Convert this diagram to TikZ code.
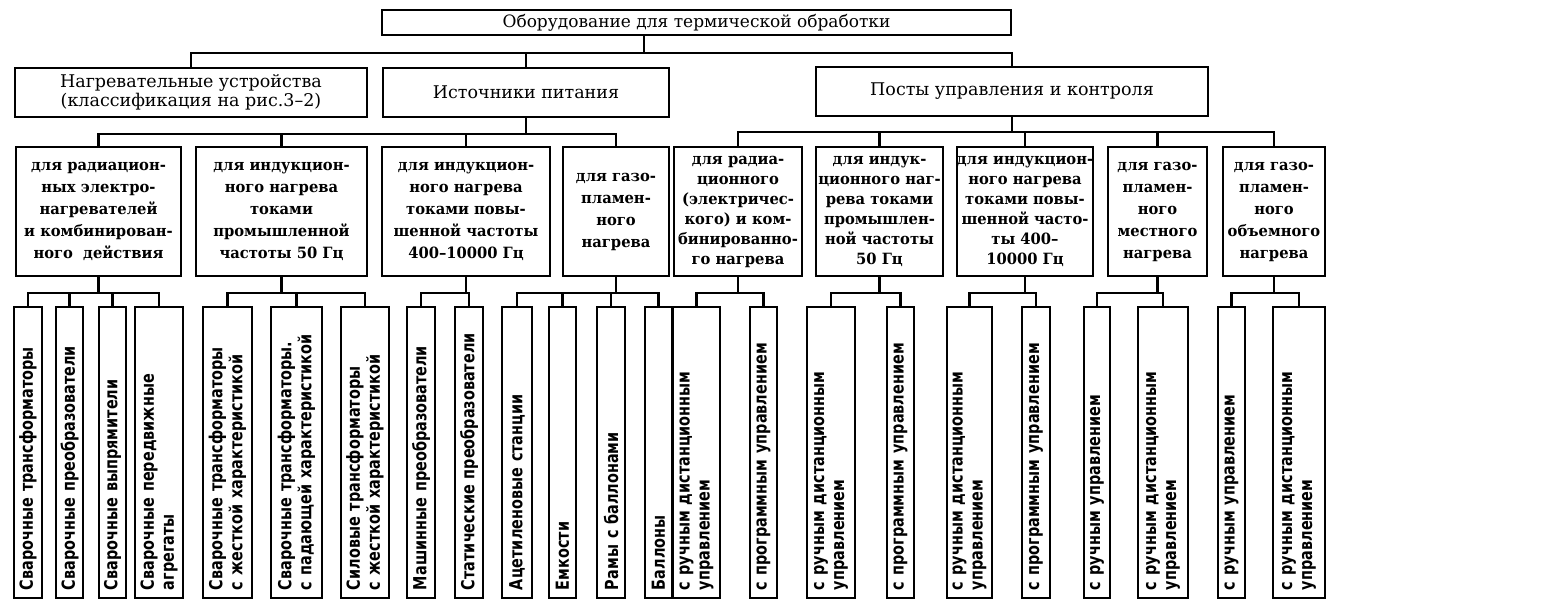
\documentclass[tikz,border=0pt]{standalone}
\usepackage{fontspec}
\setmainfont{DejaVu Serif}
\newfontfamily\lthreefont{DejaVu Serif}[FakeStretch=0.95]
\newfontfamily\lfourfont{DejaVu Sans}[FakeStretch=0.8]
\newcommand\leafwsp{\spaceskip 0.5em plus 0.1em\relax}
\begin{document}
\begin{tikzpicture}[x=1pt,y=-1pt,
  box/.style={draw, line width=2.2pt, inner sep=0pt, align=center},
  lvtwo/.style={box, font=\fontsize{17.5}{18.5}\selectfont},
  lvthree/.style={box, minimum height=129pt, font=\lthreefont\bfseries\fontsize{15.5}{22}\selectfont},
  tight/.style={font=\lthreefont\bfseries\fontsize{15.5}{20}\selectfont},
  leaf/.style={draw, line width=2.2pt, rotate=90, minimum width=291pt, inner xsep=8pt, inner ysep=0pt,
    text width=275pt, align=left,
    font=\lfourfont\bfseries\fontsize{18}{20}\selectfont\leafwsp},
  conn/.style={line width=2.6pt}]
\fill[white] (0,0) rectangle (1556,611);
\useasboundingbox (0,0) rectangle (1556,611);

% level 1
\node[box, minimum width=629pt, minimum height=25pt, font=\fontsize{17}{18}\selectfont] (top) at (696.5,22.5) {Оборудование для термической обработки};
\coordinate (tb) at ([xshift=-52.5pt]top.south);

% level 2
\node[lvtwo, minimum width=352pt, minimum height=49pt] (N) at (191,92.5) {Нагревательные устройства\\(классификация на рис.3–2)};
\node[lvtwo, minimum width=286pt, minimum height=49pt] (S) at (526,92.5) {Источники питания};
\node[lvtwo, minimum width=392pt, minimum height=49pt] (P) at (1012,91.5) {Посты управления и контроля};

% level 3
\node[lvthree, minimum width=165pt] (A) at (98.5,211.5) {для радиацион-\\ных электро-\\нагревателей\\и комбинирован-\\ного\ \ действия};
\node[lvthree, minimum width=171pt] (B) at (281.5,211.5) {для индукцион-\\ного нагрева\\токами\\промышленной\\частоты 50 Гц};
\node[lvthree, minimum width=168pt] (C) at (466,211.5) {для индукцион-\\ного нагрева\\токами повы-\\шенной частоты\\400–10000 Гц};
\node[lvthree, minimum width=106pt] (D) at (616,211.5) {для газо-\\пламен-\\ного\\нагрева};
\node[lvthree, tight, minimum width=128pt] (E) at (738,211.5) {для радиа-\\ционного\\(электричес-\\кого) и ком-\\бинированно-\\го нагрева};
\node[lvthree, tight, minimum width=127pt] (F) at (879.5,211.5) {для индук-\\ционного наг-\\рева токами\\промышлен-\\ной частоты\\50 Гц};
\node[lvthree, tight, minimum width=136pt] (G) at (1025,211.5) {для индукцион-\\ного нагрева\\токами повы-\\шенной часто-\\ты 400–\\10000 Гц};
\node[lvthree, minimum width=99pt] (H) at (1157.5,211.5) {для газо-\\пламен-\\ного\\местного\\нагрева};
\node[lvthree, minimum width=102pt] (I) at (1274,211.5) {для газо-\\пламен-\\ного\\объемного\\нагрева};

% level 4
\node[leaf, minimum height=28pt] (l1) at (28,452.5) {Сварочные трансформаторы};
\node[leaf, minimum height=27pt] (l2) at (69.5,452.5) {Сварочные преобразователи};
\node[leaf, minimum height=27pt] (l3) at (112.5,452.5) {Сварочные выпрямители};
\node[leaf, minimum height=48pt] (l4) at (159,452.5) {Сварочные передвижные\\агрегаты};
\node[leaf, minimum height=49pt] (l5) at (227.5,452.5) {Сварочные трансформаторы\\с жесткой характеристикой};
\node[leaf, minimum height=51pt] (l6) at (296.5,452.5) {Сварочные трансформаторы.\\с падающей характеристикой};
\node[leaf, minimum height=48pt] (l7) at (365,452.5) {Силовые трансформаторы\\с жесткой характеристикой};
\node[leaf, minimum height=28pt] (l8) at (421,452.5) {Машинные преобразователи};
\node[leaf, minimum height=28pt] (l9) at (469,452.5) {Статические преобразователи};
\node[leaf, minimum height=30pt] (l10) at (517,452.5) {Ацетиленовые станции};
\node[leaf, minimum height=27pt] (l11) at (562.5,452.5) {Емкости};
\node[leaf, minimum height=28pt] (l12) at (611,452.5) {Рамы с баллонами};
\node[leaf, minimum height=27pt] (l13) at (658.5,452.5) {Баллоны};
\node[leaf, minimum height=47pt] (l14) at (696.5,452.5) {с ручным дистанционным\\управлением};
\node[leaf, minimum height=27pt] (l15) at (763.5,452.5) {с программным управлением};
\node[leaf, minimum height=48pt] (l16) at (831,452.5) {с ручным дистанционным\\управлением};
\node[leaf, minimum height=27pt] (l17) at (900.5,452.5) {с программным управлением};
\node[leaf, minimum height=45pt] (l18) at (969.5,452.5) {с ручным дистанционным\\управлением};
\node[leaf, minimum height=28pt] (l19) at (1036,452.5) {с программным управлением};
\node[leaf, minimum height=26pt] (l20) at (1097,452.5) {с ручным управлением};
\node[leaf, minimum height=50pt] (l21) at (1163,452.5) {с ручным дистанционным\\управлением};
\node[leaf, minimum height=27pt] (l22) at (1231.5,452.5) {с ручным управлением};
\node[leaf, minimum height=52pt] (l23) at (1299,452.5) {с ручным дистанционным\\управлением};

% connectors
\foreach \c in {N,S,P} \draw[conn] (tb) -- ++(0,17) -| (\c.north);
\foreach \c in {A,B,C,D} \draw[conn] (S.south) -- ++(0,16) -| (\c.north);
\foreach \c in {E,F,G,H,I} \draw[conn] (P.south) -- ++(0,15) -| (\c.north);
\foreach \p/\c in {A/l1,A/l2,A/l3,A/l4,B/l5,B/l6,B/l7,C/l8,C/l9,D/l10,D/l11,D/l12,D/l13,
  E/l14,E/l15,F/l16,F/l17,G/l18,G/l19,H/l20,H/l21,I/l22,I/l23}
  \draw[conn] (\p.south) -- ++(0,16) -| (\c.east);
\end{tikzpicture}
\end{document}
